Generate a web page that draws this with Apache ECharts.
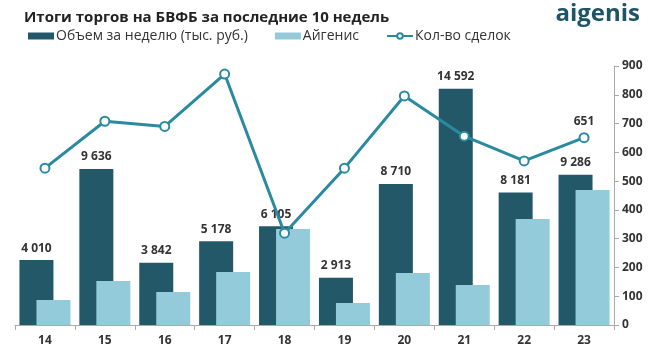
<!DOCTYPE html>
<html><head><meta charset="utf-8">
<script src="https://cdn.jsdelivr.net/npm/echarts@6/dist/echarts.min.js"></script>
<style>html,body{margin:0;padding:0;background:#fff}#c{width:654px;height:357px}</style>
</head><body><div id="c"></div>
<script>
var weeks = ['14','15','16','17','18','19','20','21','22','23'];
var volume = [4010, 9636, 3842, 5178, 6105, 2913, 8710, 14592, 8181, 9286];
var aigenis = [1550, 2720, 2040, 3270, 5930, 1360, 3210, 2470, 6550, 8340];
var deals = [545, 708, 690, 872, 319, 545, 796, 656, 570, 651];
var rightTicks = [0, 900, 100];

var FONT = 'Open Sans';
function fmt(v){ return String(v).replace(/\B(?=(\d{3})+(?!\d))/g, ' '); }

var chart = echarts.init(document.getElementById('c'), null, {renderer:'canvas'});
var lineData = deals.map(function(v,i){
  if (i === deals.length-1) return {value:v, label:{show:true, position:'top', distance:5, color:'#333', fontWeight:'bold', fontSize:12, fontFamily:FONT}};
  return v;
});
chart.setOption({
  animation:false,
  textStyle:{fontFamily:FONT},
  title:{text:'Итоги торгов на БВФБ за последние 10 недель', left:19, top:5,
    textStyle:{fontSize:15, fontWeight:'bold', color:'#222', fontFamily:FONT}},
  graphic:[{type:'text', right:14, top:2, style:{text:'aigenis', fontSize:24, fontWeight:'bold', fill:'#1d5566', fontFamily:FONT}}],
  legend:{left:23, top:24, itemWidth:26, itemHeight:7, itemGap:27,
    textStyle:{fontSize:14, color:'#333', fontFamily:FONT, padding:[0,0,0,-3]},
    data:[{name:'Объем за неделю (тыс. руб.)', icon:'rect'},{name:'Айгенис', icon:'rect'},{name:'Кол-во сделок'}]},
  grid:{left:15, right:40, top:66, bottom:32},
  xAxis:{type:'category', data:weeks,
    axisLine:{lineStyle:{color:'#aaa'}}, axisTick:{show:true, lineStyle:{color:'#aaa'}, length:5},
    axisLabel:{fontSize:12, fontWeight:'bold', color:'#333', margin:10}},
  yAxis:[
    {type:'value', min:0, max:16000, show:false, splitLine:{show:false}},
    {type:'value', position:'right', min:rightTicks[0], max:rightTicks[1], interval:rightTicks[2],
      axisLine:{show:true, lineStyle:{color:'#aaa'}}, axisTick:{show:true, length:5, lineStyle:{color:'#aaa'}},
      splitLine:{show:false},
      axisLabel:{fontSize:12, fontWeight:'bold', color:'#333', margin:8}}
  ],
  series:[
    {name:'Объем за неделю (тыс. руб.)', type:'bar', yAxisIndex:0, data:volume, barWidth:34, barGap:'-50%',
      itemStyle:{color:'#225868'},
      label:{show:true, position:'top', distance:6, color:'#333', fontWeight:'bold', fontSize:12, fontFamily:FONT, formatter:function(p){return fmt(p.value);}}},
    {name:'Айгенис', type:'bar', yAxisIndex:0, data:aigenis, barWidth:34, itemStyle:{color:'#93cbdb'}},
    {name:'Кол-во сделок', type:'line', yAxisIndex:1, data:lineData, z:5,
      lineStyle:{color:'#2a8aa0', width:3}, itemStyle:{color:'#2a8aa0', borderWidth:2},
      symbol:'emptyCircle', symbolSize:9}
  ]
});
</script></body></html>
